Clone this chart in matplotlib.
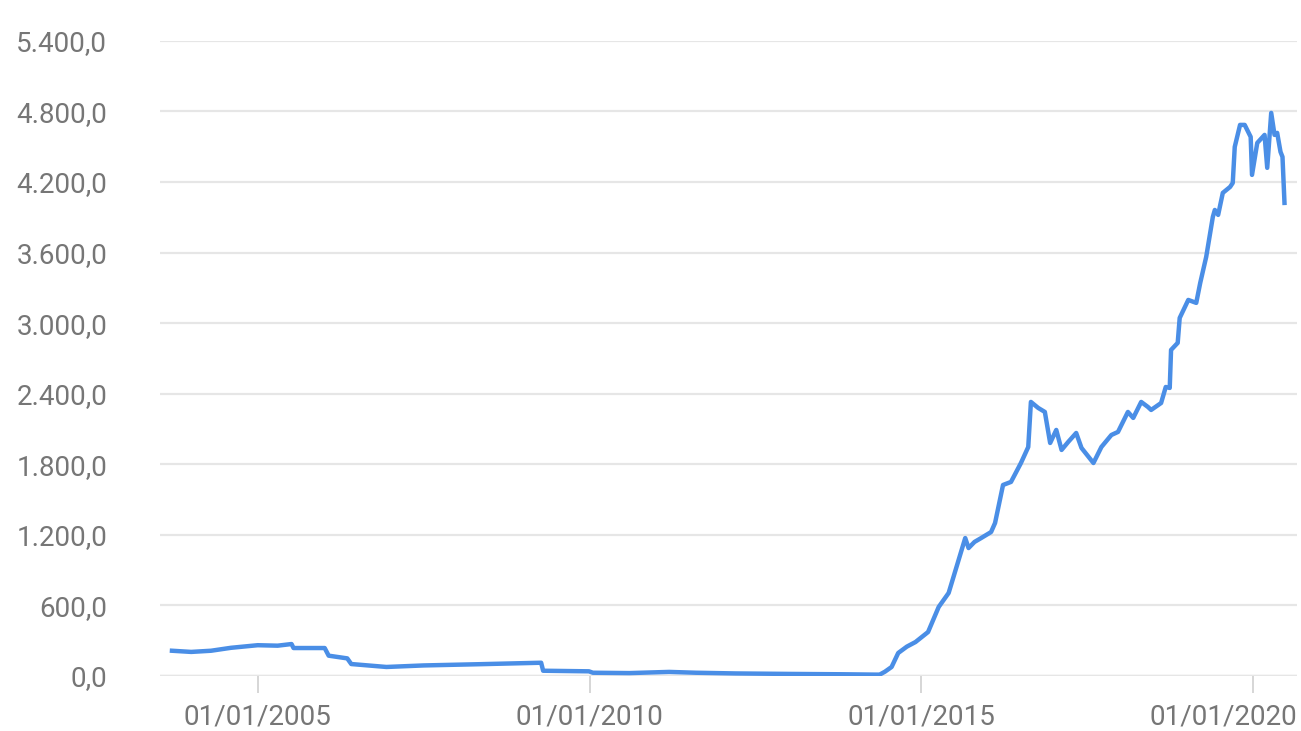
import numpy as np
import pandas as pd
import matplotlib
matplotlib.use("Agg")
import matplotlib.pyplot as plt
import matplotlib.dates as mdates
import matplotlib.transforms as mtransforms
from matplotlib.ticker import FuncFormatter, MultipleLocator

# values (fractional year, value)
years = [2003.71, 2004.0, 2004.3, 2004.6, 2005.0, 2005.3, 2005.51, 2005.54, 2006.01, 2006.07,
         2006.35, 2006.41, 2006.94, 2007.5, 2008.3, 2009.27, 2009.3, 2009.99, 2010.05,
         2010.6, 2011.2, 2011.6, 2012.2, 2013.0, 2013.8, 2014.3, 2014.37,
         2014.45, 2014.55, 2014.65, 2014.78, 2014.91, 2015.1, 2015.26, 2015.41, 2015.56,
         2015.66, 2015.71, 2015.8, 2015.9, 2016.05, 2016.11, 2016.23, 2016.35, 2016.5,
         2016.61, 2016.65, 2016.76, 2016.86, 2016.94, 2017.03, 2017.11, 2017.21, 2017.33,
         2017.41, 2017.59, 2017.71, 2017.86, 2017.96, 2018.11, 2018.19, 2018.31, 2018.41,
         2018.46, 2018.61, 2018.68, 2018.74, 2018.76, 2018.86, 2018.89, 2019.02, 2019.14,
         2019.2, 2019.29, 2019.39, 2019.42, 2019.47, 2019.54, 2019.65, 2019.69, 2019.72,
         2019.80, 2019.87, 2019.96, 2019.98, 2020.06, 2020.17, 2020.21, 2020.27, 2020.32,
         2020.36, 2020.41, 2020.44, 2020.47]
values = [215, 205, 215, 240, 262, 258, 272, 238, 238, 173,
          150, 102, 77, 90, 100, 113, 45, 40, 28,
          25, 35, 28, 22, 18, 15, 12, 12,
          37, 77, 196, 250, 289, 374, 587, 706, 986,
          1173, 1088, 1140, 1173, 1224, 1301, 1624, 1650, 1811,
          1947, 2330, 2279, 2245, 1981, 2092, 1922, 1990, 2066,
          1939, 1811, 1947, 2049, 2075, 2245, 2194, 2330, 2288,
          2262, 2321, 2457, 2449, 2772, 2832, 3044, 3197, 3172,
          3342, 3563, 3903, 3962, 3920, 4107, 4158, 4192, 4498,
          4685, 4685, 4583, 4260, 4532, 4600, 4320, 4787, 4600,
          4617, 4456, 4413, 4022]

tick_years = [2005, 2010, 2015, 2020]


def to_date(y):
    yr = int(np.floor(y))
    start = pd.Timestamp(year=yr, month=1, day=1)
    return start + pd.Timedelta(days=(y - yr) * 365.25)


dates = [to_date(y) for y in years]

plt.rcParams['font.family'] = ['Roboto', 'DejaVu Sans']

fig = plt.figure(figsize=(13.01, 7.31), dpi=100)
ax = fig.add_axes([0.123, 0.0752, 0.874, 0.869])

ax.plot(dates, values, color='#4a8ee6', lw=3.2, solid_joinstyle='round', zorder=3)

ax.set_ylim(0, 5400)
ax.set_xlim(to_date(2003.53), to_date(2020.66))
ax.yaxis.set_major_locator(MultipleLocator(600))
ax.yaxis.set_major_formatter(FuncFormatter(
    lambda v, p: '{:,.1f}'.format(v).replace(',', 'X').replace('.', ',').replace('X', '.')))
ax.set_xticks([pd.Timestamp(year=y, month=1, day=1) for y in tick_years])
ax.xaxis.set_major_formatter(mdates.DateFormatter('%d/%m/%Y'))

ax.grid(axis='y', color='#e6e6e6', lw=1.6, zorder=0)
ax.axhline(0, color='#c4c8d0', lw=1.6, zorder=1)
for s in ax.spines.values():
    s.set_visible(False)

ax.tick_params(axis='y', length=0, pad=38, labelsize=20, labelcolor='#767676')
ax.tick_params(axis='x', length=12, width=1.2, color='#d0d0d0', pad=8,
               labelsize=20, labelcolor='#767676')

# last date label is pushed left so it stays inside the figure
last = ax.get_xticklabels()[-1]
last.set_transform(last.get_transform() +
                   mtransforms.ScaledTranslation(-0.3, 0, fig.dpi_scale_trans))

fig.savefig('out.png', dpi=100, facecolor='white')
